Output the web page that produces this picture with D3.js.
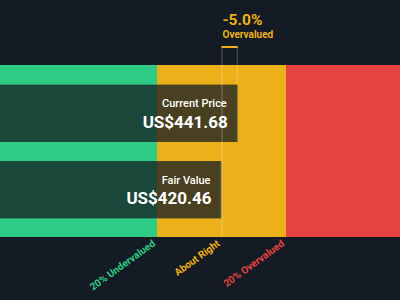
<!DOCTYPE html>
<html>
<head>
<meta charset="utf-8">
<script src="https://cdn.jsdelivr.net/npm/d3@7"></script>
<style>
  html, body { margin: 0; padding: 0; background: #151b24; }
  svg { display: block; font-family: Roboto, "Noto Sans", sans-serif; }
</style>
</head>
<body>
<div id="chart"></div>
<script>
// Values
const currency = "US$";
const currentPrice = 441.68;
const fairValue = 420.46;
const zoneNames = ["20% Undervalued", "About Right", "20% Overvalued"];
const zoneBounds = [0.8, 1.0, 1.2];   // multiples of fair value where labels sit
const barNames = ["Current Price", "Fair Value"];
const barValues = [currentPrice, fairValue];

const width = 400;
const height = 300;

// Colours
const bgColor = "#151b24";
const green = "#2ecc84";
const yellow = "#ecb11a";
const red = "#e5433f";
const zoneColors = [green, yellow, red];

const svg = d3.select("#chart")
    .append("svg")
    .attr("width", width)
    .attr("height", height);

svg.append("rect").attr("width", width).attr("height", height).attr("fill", bgColor);

// Price scale: 20% under -> 157px, 20% over -> 286px
const x = d3.scaleLinear()
    .domain([fairValue * 0.8, fairValue * 1.2])
    .range([157, 286]);

const bandTop = 65, bandBottom = 237;

// Coloured zones
const zones = [
    {from: x.invert(0), to: fairValue * 0.8, color: green},
    {from: fairValue * 0.8, to: fairValue * 1.2, color: yellow},
    {from: fairValue * 1.2, to: x.invert(width), color: red}
];
svg.selectAll(".zone")
    .data(zones)
    .enter().append("rect")
    .attr("class", "zone")
    .attr("x", d => x(d.from))
    .attr("y", bandTop)
    .attr("width", d => x(d.to) - x(d.from))
    .attr("height", bandBottom - bandTop)
    .attr("fill", d => d.color);

// Bars (current price, fair value)
const y = d3.scaleBand()
    .domain(barNames)
    .range([bandTop + 0.5, bandBottom + 0.5])
    .paddingInner(0.25)
    .paddingOuter(0.25);

const bars = svg.selectAll(".bar")
    .data(barNames.map((n, i) => ({name: n, value: barValues[i]})))
    .enter().append("g")
    .attr("class", "bar");

bars.append("rect")
    .attr("x", 0)
    .attr("y", d => y(d.name))
    .attr("width", d => x(d.value))
    .attr("height", y.bandwidth())
    .attr("fill", bgColor)
    .attr("fill-opacity", 0.76);

bars.append("line")
    .attr("x1", d => x(d.value) - 0.5)
    .attr("x2", d => x(d.value) - 0.5)
    .attr("y1", d => y(d.name))
    .attr("y2", d => y(d.name) + y.bandwidth())
    .attr("stroke", "#ffffff")
    .attr("stroke-opacity", 0.25);

bars.append("text")
    .attr("x", d => x(d.value) - 11)
    .attr("y", d => y(d.name) + 22.5)
    .attr("text-anchor", "end")
    .attr("fill", "#ffffff")
    .attr("font-size", "11px")
    .attr("font-weight", 500)
    .text(d => d.name);

bars.append("text")
    .attr("x", d => x(d.value) - 10)
    .attr("y", d => y(d.name) + 43)
    .attr("text-anchor", "end")
    .attr("fill", "#ffffff")
    .attr("font-size", "17px")
    .attr("font-weight", 700)
    .text(d => currency + d.value.toFixed(2));

// Marker of the gap between fair value and price
const markTop = 47;
svg.append("line")
    .attr("x1", x(fairValue) + 0.5).attr("x2", x(fairValue) + 0.5)
    .attr("y1", markTop).attr("y2", bandBottom)
    .attr("stroke", "#ffffff").attr("stroke-opacity", 0.3);
svg.append("line")
    .attr("x1", x(currentPrice) - 0.5).attr("x2", x(currentPrice) - 0.5)
    .attr("y1", markTop).attr("y2", y(barNames[0]))
    .attr("stroke", "#ffffff").attr("stroke-opacity", 0.25);
svg.append("line")
    .attr("x1", x(fairValue)).attr("x2", x(currentPrice))
    .attr("y1", markTop).attr("y2", markTop)
    .attr("stroke", yellow).attr("stroke-width", 2);

const pct = (fairValue - currentPrice) / fairValue * 100;
svg.append("text")
    .attr("x", x(fairValue) + 1)
    .attr("y", 25)
    .attr("fill", yellow)
    .attr("font-size", "15.5px")
    .attr("font-weight", 700)
    .text(pct.toFixed(1) + "%");
svg.append("text")
    .attr("x", x(fairValue) + 1)
    .attr("y", 37.5)
    .attr("fill", yellow)
    .attr("font-size", "10px")
    .attr("font-weight", 700)
    .text(pct < 0 ? "Overvalued" : "Undervalued");

// Zone labels under the band
svg.selectAll(".zone-label")
    .data(zoneNames.map((n, i) => ({name: n, at: fairValue * zoneBounds[i], color: zoneColors[i]})))
    .enter().append("text")
    .attr("class", "zone-label")
    .attr("transform", d => "translate(" + (x(d.at) - 1) + "," + (bandBottom + 8) + ") rotate(-36)")
    .attr("text-anchor", "end")
    .attr("fill", d => d.color)
    .attr("font-size", "10px")
    .attr("font-weight", 700)
    .text(d => d.name);
</script>
</body>
</html>
